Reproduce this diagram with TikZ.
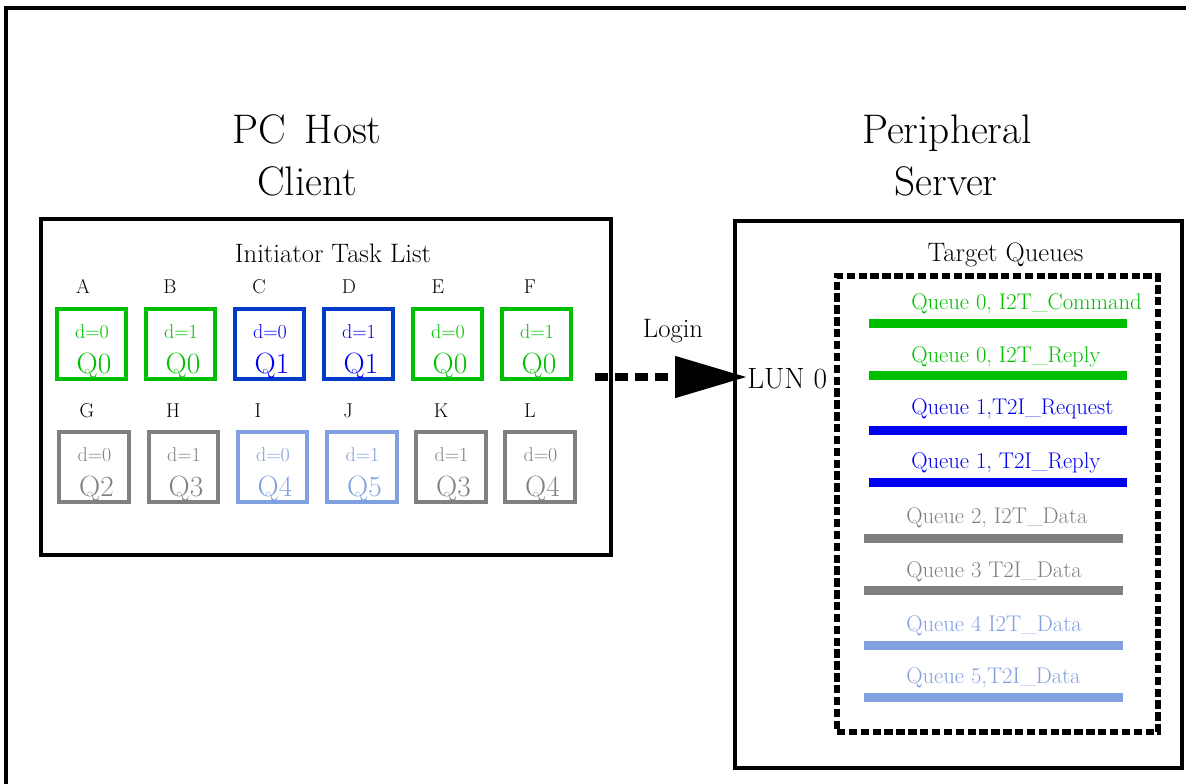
\documentclass[tikz,border=0pt]{standalone}
\usetikzlibrary{arrows.meta}
\definecolor{qgreen}{RGB}{0,190,0}
\definecolor{qblue}{RGB}{0,0,240}
\definecolor{bblue}{RGB}{0,60,200}
\definecolor{qgray}{RGB}{128,128,128}
\definecolor{qlblue}{RGB}{128,160,224}
\begin{document}
\begin{tikzpicture}[x=0.75pt,y=-0.75pt,
  titletext/.style={font=\fontsize{31}{34}\selectfont, inner sep=0pt, anchor=base},
  headtext/.style={font=\fontsize{20}{22}\selectfont, inner sep=0pt, anchor=base},
  lettertext/.style={font=\fontsize{15}{17}\selectfont, inner sep=0pt, anchor=base},
  dtext/.style={font=\fontsize{15}{17}\selectfont, inner sep=0pt, anchor=base},
  qtext/.style={font=\fontsize{22}{24}\selectfont, inner sep=0pt, anchor=base},
  queuetext/.style={font=\fontsize{17}{19}\selectfont, inner sep=0pt, anchor=base west},
  bigbox/.style={draw, line width=2.4pt, inner sep=0pt},
  sqbox/.style={draw, line width=3pt, minimum width=52pt, minimum height=52.5pt, inner sep=0pt},
  qline/.style={line width=6.75pt},
  dashbox/.style={draw, line width=4pt, dash pattern=on 6.3pt off 2.6pt, inner sep=0pt},
  loginarrow/.style={line width=6pt, dash pattern=on 10pt off 5pt, -{Triangle[length=54pt,width=30pt]}}
]
\useasboundingbox (0,0) rectangle (1186,783);
\clip (0,0) rectangle (1186,783);
\draw[line width=2.4pt] (6,8) rectangle (1260,860);

% titles
\node[titletext] (pchost) at (307,143) {PC\hspace{0.45em}Host};
\node[titletext] (client) at (307,195) {Client};
\node[titletext] (periph) at (947,143) {Peripheral};
\node[titletext] (server) at (946,195) {Server};

% left box
\node[bigbox, minimum width=427.5pt, minimum height=252pt] (hostbox) at (326,387) {};
\node[headtext] (itl) at (333,262) {Initiator Task List};

% small boxes
\foreach \n/\x/\y/\col/\bcol/\d/\q in {
  A/91.5/344/qgreen/qgreen/0/0,
  B/180.5/344/qgreen/qgreen/1/0,
  C/269.5/344/qblue/bblue/0/1,
  D/358.5/344/qblue/bblue/1/1,
  E/447.5/344/qgreen/qgreen/0/0,
  F/536.5/344/qgreen/qgreen/1/0,
  G/94/467/qgray/qgray/0/2,
  H/183.5/467/qgray/qgray/1/3,
  I/272.5/467/qlblue/qlblue/0/4,
  J/362/467/qlblue/qlblue/1/5,
  K/451/467/qgray/qgray/1/3,
  L/540/467/qgray/qgray/0/4}{
  \node[sqbox, draw=\bcol] (box\n) at (\x,\y) {};
  \node[dtext, text=\col] (d\n) at (\x+0.5,\y-6) {d=\d};
  \node[qtext, text=\col] (q\n) at (\x+2.5,\y+29) {Q\q};
}

% letters
\foreach \n/\x/\y in {A/83/293, B/170/293, C/259/293, D/349/293, E/438/293, F/530/293,
  G/87/417, H/173/417, I/258/417, J/348/417, K/441/417, L/530/417}{
  \node[lettertext] (lab\n) at (\x,\y) {\n};
}

% right box
\node[bigbox, minimum width=335.25pt, minimum height=410.25pt] (periphbox) at (958.5,494.5) {};
\node[headtext] (tq) at (1005.5,261) {Target Queues};
\node[dashbox, minimum width=240.75pt, minimum height=342pt] (queuebox) at (997.5,504) {};

% login arrow
\node[headtext] (login) at (673,337) {Login};
\node[font=\fontsize{22}{24}\selectfont, inner sep=0pt, anchor=west] (lun) at (747,379) {LUN 0};
\coordinate (loginstart) at (595,377);
\draw[loginarrow] (loginstart) -- (loginstart -| lun.west);

% queues
\foreach \i/\tx/\ty/\la/\lb/\ly/\col/\txt in {
  1/911/309/869/1127/323/qgreen/{Queue 0, I2T\_Command},
  2/911/362/869/1127/375/qgreen/{Queue 0, I2T\_Reply},
  3/911/414/869/1127/430/qblue/{Queue 1,T2I\_Request},
  4/911/468/869/1127/482/qblue/{Queue 1, T2I\_Reply},
  5/906/523/864/1123/538/qgray/{Queue 2, I2T\_Data},
  6/906/577/864/1123/590/qgray/{Queue 3 T2I\_Data},
  7/906/631/864/1123/645/qlblue/{Queue 4 I2T\_Data},
  8/906/683/864/1123/697/qlblue/{Queue 5,T2I\_Data}}{
  \node[queuetext, text=\col] (qt\i) at (\tx,\ty) {\txt};
  \coordinate (qa\i) at (\la,\ly);
  \coordinate (qb\i) at (\lb,\ly);
  \draw[qline, draw=\col] (qa\i) -- (qb\i);
}
\end{tikzpicture}
\end{document}
